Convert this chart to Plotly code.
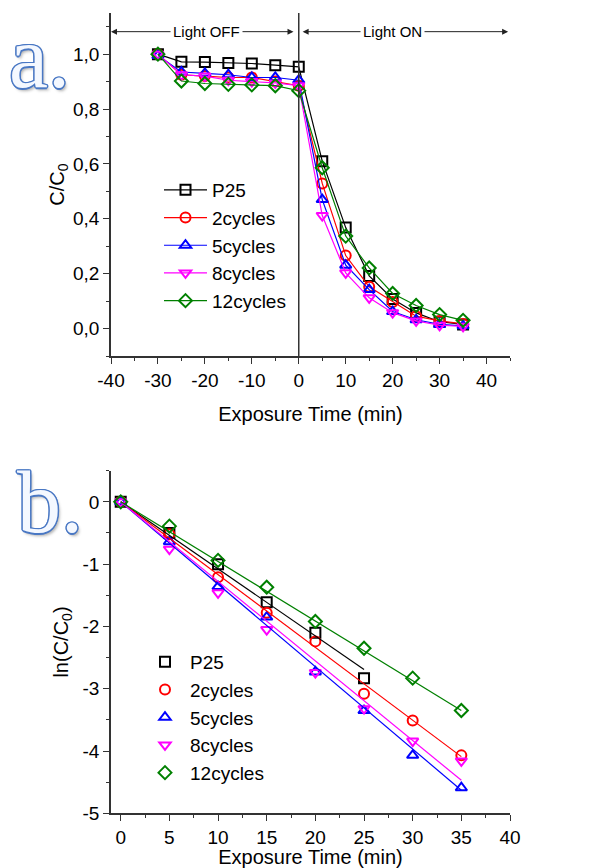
import plotly.graph_objects as go

# ---------------- data: panel a ----------------
time_a = [-30, -25, -20, -15, -10, -5, 0, 5, 10, 15, 20, 25, 30, 35]
p25_a = [1.0, 0.972, 0.971, 0.968, 0.966, 0.960, 0.954, 0.61, 0.368, 0.192, 0.108, 0.057, 0.025, 0.015]
c2_a = [1.0, 0.925, 0.92, 0.915, 0.915, 0.90, 0.885, 0.529, 0.266, 0.152, 0.097, 0.045, 0.028, 0.017]
c5_a = [0.995, 0.935, 0.93, 0.925, 0.915, 0.915, 0.905, 0.47, 0.231, 0.142, 0.062, 0.032, 0.015, 0.010]
c8_a = [1.0, 0.925, 0.92, 0.905, 0.90, 0.895, 0.885, 0.412, 0.203, 0.112, 0.058, 0.028, 0.012, 0.008]
c12_a = [1.0, 0.902, 0.893, 0.89, 0.888, 0.885, 0.867, 0.586, 0.337, 0.221, 0.128, 0.084, 0.051, 0.030]

# ---------------- data: panel b ----------------
time_b = [0, 5, 10, 15, 20, 25, 30, 35]
time_b_p25 = [0, 5, 10, 15, 20, 25]
p25_b = [0, -0.50, -1.00, -1.61, -2.10, -2.83]
c2_b = [0, -0.52, -1.21, -1.78, -2.24, -3.08, -3.51, -4.07]
c5_b = [0, -0.64, -1.36, -1.85, -2.73, -3.35, -4.07, -4.59]
c8_b = [0, -0.76, -1.46, -2.05, -2.74, -3.32, -3.84, -4.16]
c12_b = [0, -0.39, -0.94, -1.37, -1.92, -2.35, -2.83, -3.35]

# linear-fit lines: start and end points
fit_x_p25 = [0, 25]
fit_y_p25 = [0, -2.69]
fit_x = [0, 35]
fit_y_c2 = [0, -4.09]
fit_y_c5 = [0, -4.63]
fit_y_c8 = [0, -4.47]
fit_y_c12 = [0, -3.35]

names = ["P25", "2cycles", "5cycles", "8cycles", "12cycles"]
colors = ["#000000", "#ff0000", "#0000ff", "#ff00ff", "#008000"]
symbols = ["square-open", "circle-open", "triangle-up-open", "triangle-down-open", "diamond-open"]

# ---------------- tick labels ----------------
xticks_a = [-40, -30, -20, -10, 0, 10, 20, 30, 40]
xticktext_a = ["-40", "-30", "-20", "-10", "0", "10", "20", "30", "40"]
yticks_a = [0.0, 0.2, 0.4, 0.6, 0.8, 1.0]
yticktext_a = ["0,0", "0,2", "0,4", "0,6", "0,8", "1,0"]
xticks_b = [0, 5, 10, 15, 20, 25, 30, 35, 40]
xticktext_b = ["0", "5", "10", "15", "20", "25", "30", "35", "40"]
yticks_b = [-5, -4, -3, -2, -1, 0]
yticktext_b = ["-5", "-4", "-3", "-2", "-1", "0"]

FONT = "Liberation Sans, Arial, sans-serif"
AXC = "#333333"

fig = go.Figure()

series_a = [p25_a, c2_a, c5_a, c8_a, c12_a]
for n, c, s, ys in zip(names, colors, symbols, series_a):
    fig.add_trace(go.Scatter(
        x=time_a, y=ys, name=n, mode="lines+markers",
        line=dict(color=c, width=1.2),
        marker=dict(symbol=s, size=10, color=c, line=dict(width=2, color=c)),
        xaxis="x", yaxis="y", legend="legend"))

series_b = [(time_b_p25, p25_b), (time_b, c2_b), (time_b, c5_b), (time_b, c8_b), (time_b, c12_b)]
for n, c, s, (xs, ys) in zip(names, colors, symbols, series_b):
    fig.add_trace(go.Scatter(
        x=xs, y=ys, name=n, mode="markers",
        marker=dict(symbol=s, size=10, color=c, line=dict(width=2, color=c)),
        xaxis="x2", yaxis="y2", legend="legend2"))

fits = [(fit_x_p25, fit_y_p25), (fit_x, fit_y_c2), (fit_x, fit_y_c5), (fit_x, fit_y_c8), (fit_x, fit_y_c12)]
for c, (xs, ys) in zip(colors, fits):
    fig.add_trace(go.Scatter(
        x=xs, y=ys, mode="lines", showlegend=False, hoverinfo="skip",
        line=dict(color=c, width=1.2), xaxis="x2", yaxis="y2"))

xdom = [111 / 606, 510 / 606]
ydom_a = [1 - 356 / 868, 1 - 13 / 868]
ydom_b = [1 - 813.3 / 868, 1 - 470.7 / 868]
XR_A = [-40, 45]
YR_A = [-0.1, 1.15]
XR_B = [-1, 40]
YR_B = [-5, 0.5]

tickfont = dict(family=FONT, size=19, color="#000")
titlefont = dict(family=FONT, size=20, color="#000")

def base_axis(**kw):
    d = dict(showgrid=False, zeroline=False, showline=True, linecolor=AXC, linewidth=1.5,
             tickcolor=AXC, tickwidth=1.2, ticklen=6, tickfont=tickfont, fixedrange=True,
             automargin=False)
    d.update(kw)
    return d

layout = dict(
    width=606, height=868, margin=dict(l=0, r=0, t=0, b=0),
    paper_bgcolor="white", plot_bgcolor="white", showlegend=True,
    xaxis=base_axis(domain=xdom, anchor="y", range=XR_A, tickmode="array", tickvals=xticks_a,
                    ticktext=xticktext_a, ticks="outside",
                    minor=dict(tickmode="linear", tick0=-40, dtick=5, ticks="outside", ticklen=3, tickcolor=AXC),
                    title=dict(text="Exposure Time (min)", font=titlefont, standoff=17)),
    yaxis=base_axis(domain=ydom_a, anchor="x", range=YR_A, tickmode="array", tickvals=yticks_a,
                    ticktext=yticktext_a, ticks="outside",
                    minor=dict(tickmode="linear", tick0=0, dtick=0.1, ticks="outside", ticklen=3, tickcolor=AXC),
                    title=dict(text="C/C<sub>0</sub>", font=titlefont, standoff=3)),
    xaxis3=base_axis(overlaying="x", anchor="y", side="top", range=XR_A, tickmode="array",
                     tickvals=xticks_a, ticks="inside", showticklabels=False,
                     minor=dict(tickmode="linear", tick0=-40, dtick=5, ticks="inside", ticklen=3, tickcolor=AXC)),
    yaxis3=base_axis(overlaying="y", anchor="x", side="right", range=YR_A, tickmode="array",
                     tickvals=yticks_a, ticks="inside", showticklabels=False,
                     minor=dict(tickmode="linear", tick0=0, dtick=0.1, ticks="inside", ticklen=3, tickcolor=AXC)),
    xaxis2=base_axis(domain=xdom, anchor="y2", range=XR_B, tickmode="array", tickvals=xticks_b,
                     ticktext=xticktext_b, ticks="outside",
                     minor=dict(tickmode="linear", tick0=0, dtick=2.5, ticks="outside", ticklen=3, tickcolor=AXC),
                     title=dict(text="Exposure Time (min)", font=titlefont, standoff=0)),
    yaxis2=base_axis(domain=ydom_b, anchor="x2", range=YR_B, tickmode="array", tickvals=yticks_b,
                     ticktext=yticktext_b, ticks="outside",
                     minor=dict(tickmode="linear", tick0=0, dtick=0.5, ticks="outside", ticklen=3, tickcolor=AXC),
                     title=dict(text="ln(C/C<sub>0</sub>)", font=titlefont, standoff=9)),
    xaxis4=base_axis(overlaying="x2", anchor="y2", side="top", range=XR_B, tickmode="array",
                     tickvals=xticks_b, ticks="inside", showticklabels=False,
                     minor=dict(tickmode="linear", tick0=0, dtick=2.5, ticks="inside", ticklen=3, tickcolor=AXC)),
    yaxis4=base_axis(overlaying="y2", anchor="x2", side="right", range=YR_B, tickmode="array",
                     tickvals=yticks_b, ticks="inside", showticklabels=False,
                     minor=dict(tickmode="linear", tick0=0, dtick=0.5, ticks="inside", ticklen=3, tickcolor=AXC)),
    legend=dict(x=159 / 606, xanchor="left", y=1 - 171 / 868, yanchor="top",
                bgcolor="rgba(0,0,0,0)", font=dict(family=FONT, size=19, color="#000"),
                itemwidth=43, tracegroupgap=0),
    legend2=dict(x=140 / 606, xanchor="left", y=1 - 643 / 868, yanchor="top",
                 bgcolor="rgba(0,0,0,0)", font=dict(family=FONT, size=19, color="#000"),
                 itemwidth=40, tracegroupgap=0),
)
fig.update_layout(**layout)

# vertical line at t=0 in panel a
fig.add_shape(type="line", xref="x", yref="y domain", x0=0, x1=0, y0=0, y1=1,
              line=dict(color=AXC, width=1.5))

# Light OFF / Light ON arrows
ARROW_Y = 1.082
fig.add_annotation(xref="x", yref="y", axref="x", ayref="y", x=-40, y=ARROW_Y, ax=-0.8, ay=ARROW_Y,
                   text="", showarrow=True, arrowhead=2, arrowside="end+start", arrowsize=1.2,
                   arrowwidth=1, arrowcolor="#222")
fig.add_annotation(xref="x", yref="y", axref="x", ayref="y", x=44.6, y=ARROW_Y, ax=0.5, ay=ARROW_Y,
                   text="", showarrow=True, arrowhead=2, arrowside="end+start", arrowsize=1.2,
                   arrowwidth=1, arrowcolor="#222")
fig.add_annotation(xref="x", yref="y", x=-19.6, y=ARROW_Y, text="Light OFF", showarrow=False,
                   bgcolor="white", borderpad=2, font=dict(family=FONT, size=15, color="#000"))
fig.add_annotation(xref="x", yref="y", x=20.0, y=ARROW_Y, text="Light ON", showarrow=False,
                   bgcolor="white", borderpad=2, font=dict(family=FONT, size=15, color="#000"))

# panel letters
outline = ("#4a78c4 1.5px 0 0, #4a78c4 -1.5px 0 0, #4a78c4 0 1.5px 0, #4a78c4 0 -1.5px 0, "
           "#4a78c4 1px 1px 0, #4a78c4 -1px -1px 0, #4a78c4 1px -1px 0, #4a78c4 -1px 1px 0, "
           "rgba(80,80,80,0.45) 2px 3px 3px")
for txt, xc, yc in [("a.", 40, 58), ("b.", 50, 502)]:
    fig.add_annotation(xref="paper", yref="paper", x=xc / 606, y=1 - yc / 868, text=txt,
                       showarrow=False, xanchor="center", yanchor="middle",
                       font=dict(family="Liberation Serif, DejaVu Serif, serif", size=88,
                                 color="#f4f8ff", shadow=outline))

fig.write_html("out.html")
